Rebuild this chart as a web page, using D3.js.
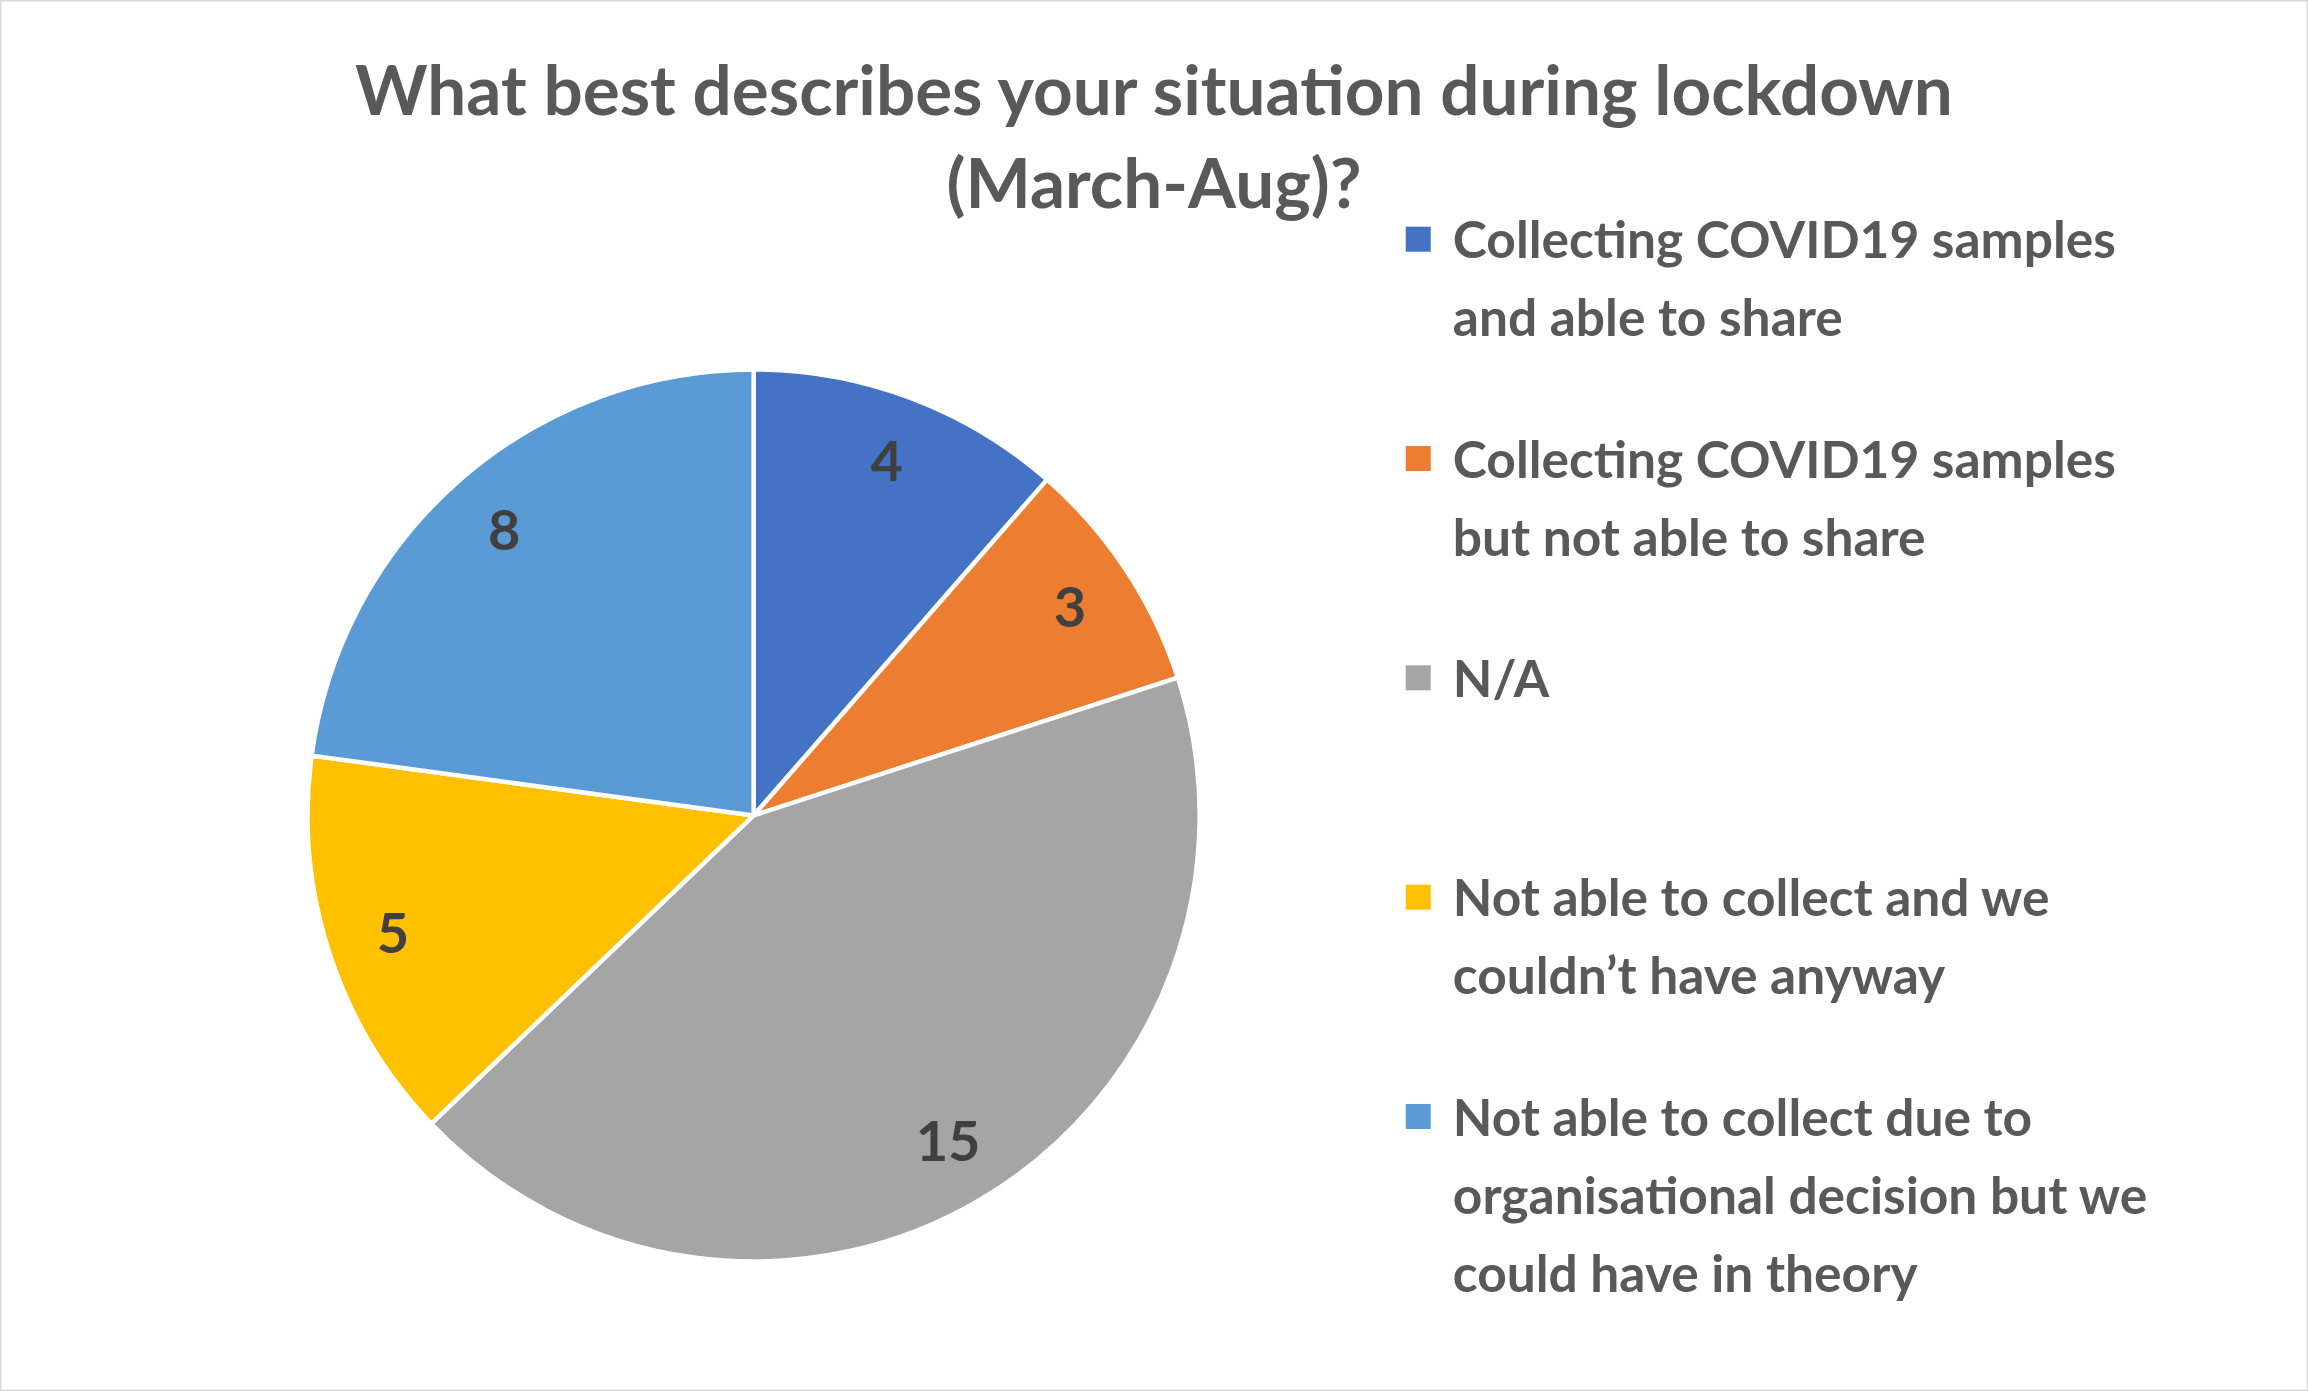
<!DOCTYPE html>
<html>
<head>
<meta charset="utf-8">
<script src="https://cdn.jsdelivr.net/npm/d3@7"></script>
<style>
  html, body { margin: 0; padding: 0; background: #fff; }
  svg { display: block; }
</style>
</head>
<body>
<svg id="chart" width="2308" height="1391" viewBox="0 0 1568 945"></svg>
<script>
const categories = [
    ["Collecting COVID19 samples", "and able to share"],
    ["Collecting COVID19 samples", "but not able to share"],
    ["N/A"],
    ["Not able to collect and we", "couldn\u2019t have anyway"],
    ["Not able to collect due to", "organisational decision but we", "could have in theory"]
];
const values = [4, 3, 15, 5, 8];
const colors = ["#4472c4", "#ed7d31", "#a5a5a5", "#ffc000", "#5b9bd5"];
const titleLines = ["What best describes your situation during lockdown", "(March-Aug)?"];
const legendY = [163, 312, 461, 610, 759];

const font = "Lato, 'Open Sans', sans-serif";
const textColor = "#595959";
const svg = d3.select("#chart");

svg.append("rect")
    .attr("x", 0.5).attr("y", 0.5)
    .attr("width", 1567).attr("height", 944)
    .attr("fill", "#fff").attr("stroke", "#d9d9d9");

// title
svg.append("g").selectAll("text")
    .data(titleLines)
    .enter().append("text")
        .attr("x", 784)
        .attr("y", (_, i) => 78 + i * 63)
        .attr("text-anchor", "middle")
        .attr("font-family", font)
        .attr("font-weight", "bold")
        .attr("font-size", 47)
        .attr("fill", textColor)
        .text(d => d);

// pie
const cx = 512, cy = 554, r = 303;
const pie = d3.pie().sort(null)(values);
const arc = d3.arc().innerRadius(0).outerRadius(r);
const labelArc = d3.arc().innerRadius(r * 0.85).outerRadius(r * 0.85);

const g = svg.append("g").attr("transform", `translate(${cx},${cy})`);
g.selectAll("path")
    .data(pie)
    .enter().append("path")
        .attr("d", arc)
        .attr("fill", (_, i) => colors[i])
        .attr("stroke", "#fff")
        .attr("stroke-width", 3)
        .attr("stroke-linejoin", "round");

g.selectAll("text")
    .data(pie)
    .enter().append("text")
        .attr("transform", d => `translate(${labelArc.centroid(d)})`)
        .attr("text-anchor", "middle")
        .attr("dy", "0.36em")
        .attr("font-family", font)
        .attr("font-weight", "bold")
        .attr("font-size", 38)
        .attr("fill", "#404040")
        .text(d => d.data);

// legend
const legend = svg.append("g");
const item = legend.selectAll("g")
    .data(categories)
    .enter().append("g")
        .attr("transform", (_, i) => `translate(955,${legendY[i]})`);

item.append("rect")
    .attr("x", 0).attr("y", -9)
    .attr("width", 17).attr("height", 17)
    .attr("fill", (_, i) => colors[i]);

item.each(function(lines) {
    d3.select(this).selectAll("text")
        .data(lines)
        .enter().append("text")
            .attr("x", 32)
            .attr("y", (_, j) => j * 53)
            .attr("dy", "0.36em")
            .attr("font-family", font)
            .attr("font-weight", "bold")
            .attr("font-size", 35)
            .attr("fill", textColor)
            .text(d => d);
});
</script>
</body>
</html>
